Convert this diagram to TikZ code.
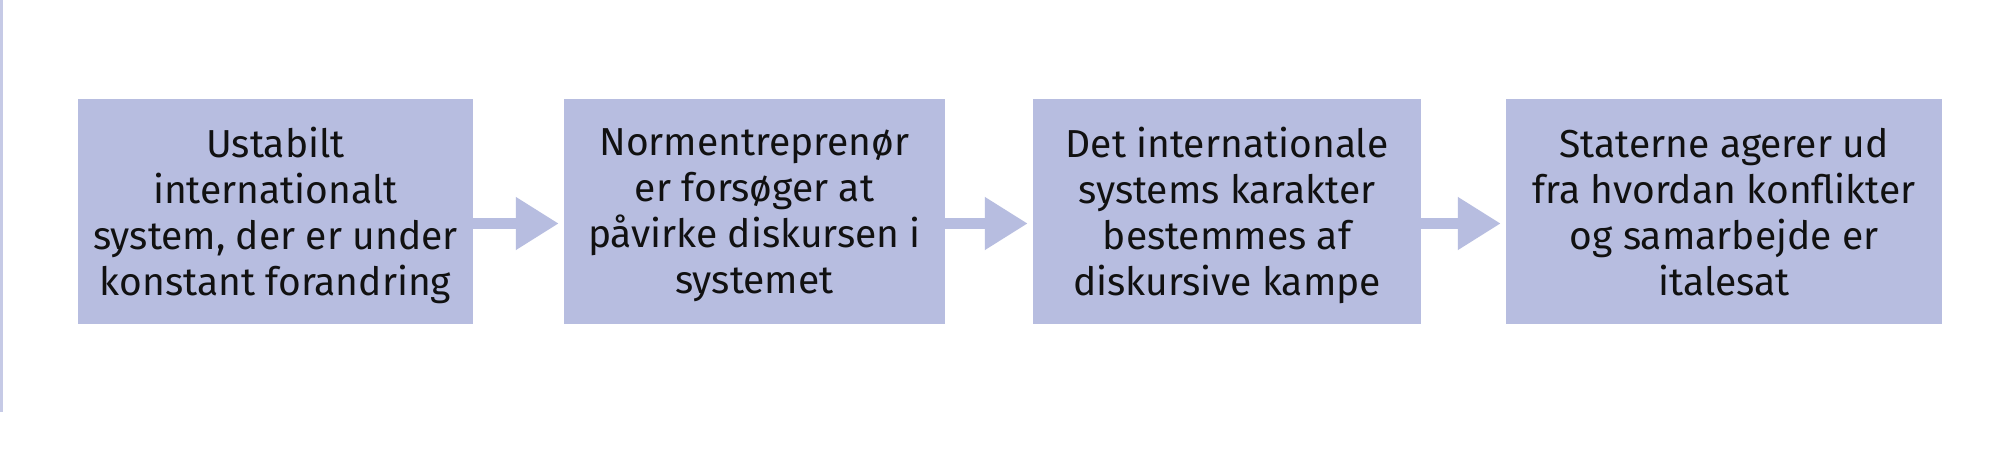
\documentclass[tikz,border=0pt]{standalone}
\usepackage{fontspec}
\setmainfont{Fira Sans}
\usetikzlibrary{arrows.meta}
\definecolor{boxfill}{RGB}{183,189,224}
\definecolor{edgeline}{RGB}{198,202,230}
\definecolor{txt}{RGB}{17,17,17}
\tikzset{
  stepbox/.style={fill=boxfill, draw=none, inner sep=0pt, minimum height=225pt,
    align=center, text=txt, text depth=-6pt, font=\fontsize{39}{46}\selectfont},
  conn/.style={draw=boxfill, line width=11pt, shorten >=5pt,
    -{Triangle[length=43pt,width=50pt]}},
}
\begin{document}
\begin{tikzpicture}[x=1pt,y=-1pt]
\useasboundingbox (0,0) rectangle (2000,452);
\fill[white] (0,0) rectangle (2000,452);
\fill[edgeline] (0,0) rectangle (3,412);
\node[stepbox, minimum width=395pt] (b1) at (275.5,211.5) {Ustabilt\\internationalt\\system, der er under\\konstant forandring};
\node[stepbox, minimum width=381pt] (b2) at (754.5,211.5) {Normentreprenør\\er forsøger at\\påvirke diskursen i\\systemet};
\node[stepbox, minimum width=388pt] (b3) at (1227,211.5) {Det internationale\\systems karakter\\bestemmes af\\diskursive kampe};
\node[stepbox, minimum width=436pt] (b4) at (1724,211.5) {Staterne agerer ud\\fra hvordan konflikter\\og samarbejde er\\italesat};
\draw[conn] ([yshift=-12pt]b1.east) -- ([yshift=-12pt]b2.west);
\draw[conn] ([yshift=-12pt]b2.east) -- ([yshift=-12pt]b3.west);
\draw[conn] ([yshift=-12pt]b3.east) -- ([yshift=-12pt]b4.west);
\end{tikzpicture}
\end{document}
